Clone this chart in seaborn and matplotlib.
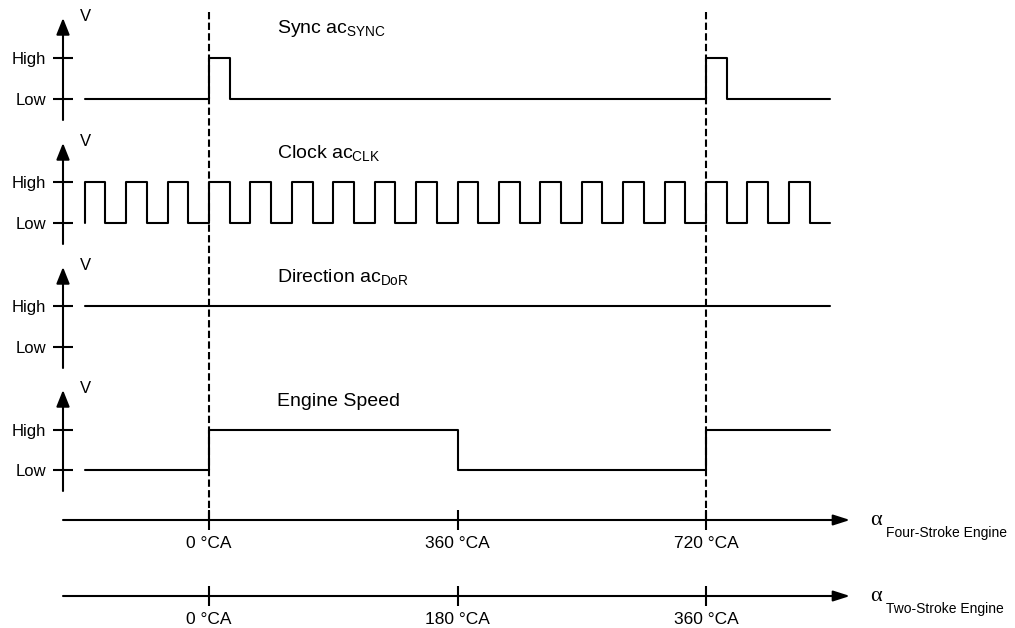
import numpy as np
import pandas as pd
import seaborn as sns
import matplotlib.pyplot as plt

# Signal levels over crank angle (four-stroke degrees). 0 = Low, 1 = High.
sync_deg = [-180, 0, 30, 720, 750, 900]
sync_level = [0, 1, 0, 1, 0, 0]

clock_deg = [-180, -180, -150, -120, -90, -60, -30, 0, 30, 60, 90, 120, 150,
             180, 210, 240, 270, 300, 330, 360, 390, 420, 450, 480, 510, 540,
             570, 600, 630, 660, 690, 720, 750, 780, 810, 840, 870, 900]
clock_level = [0, 1, 0, 1, 0, 1, 0, 1, 0, 1, 0, 1, 0, 1, 0, 1, 0, 1, 0,
               1, 0, 1, 0, 1, 0, 1, 0, 1, 0, 1, 0, 1, 0, 1, 0, 1, 0, 0]

direction_deg = [-180, 900]
direction_level = [1, 1]

speed_deg = [-180, 0, 360, 720, 900]
speed_level = [0, 1, 0, 1, 1]

level_labels = ["Low", "High"]
signal_titles = ["Sync ac$_\\mathrm{SYNC}$", "Clock ac$_\\mathrm{CLK}$",
                 "Direction ac$_\\mathrm{DoR}$", "Engine Speed"]

four_stroke_ticks = [0, 360, 720]
four_stroke_labels = ["0 °CA", "360 °CA", "720 °CA"]
two_stroke_ticks = [0, 180, 360]
two_stroke_labels = ["0 °CA", "180 °CA", "360 °CA"]
tdc_marks = [0, 720]

W, H = 1015, 628
X0, SCALE = 209, 497 / 720          # pixel of 0 °CA, pixels per degree
XLIM = (-X0 / SCALE, (W - X0) / SCALE)
AXIS_X = (63 - X0) / SCALE           # position of vertical axes
ARROW_END = (850 - X0) / SCALE       # tip of horizontal arrows
LW = 1.5

sns.set_style("white")
plt.rcParams["font.family"] = ["Liberation Sans", "DejaVu Sans"]
plt.rcParams["mathtext.fontset"] = "custom"
plt.rcParams["mathtext.rm"] = "Liberation Sans"
plt.rcParams["mathtext.it"] = "Liberation Sans:italic"
plt.rcParams["mathtext.bf"] = "Liberation Sans:bold"
for key in ["text.color", "axes.labelcolor", "xtick.color", "ytick.color",
            "xtick.labelcolor", "ytick.labelcolor"]:
    plt.rcParams[key] = "black"

fig = plt.figure(figsize=(W / 100, H / 100), dpi=100)


def px_axes(top, bottom):
    ax = fig.add_axes([0, 1 - bottom / H, 1, (bottom - top) / H])
    ax.patch.set_visible(False)
    for s in ax.spines.values():
        s.set_visible(False)
    return ax


# background axes in pixel units for dashed markers and labels
bg = px_axes(0, H)
bg.set_xlim(*XLIM)
bg.set_ylim(H, 0)
bg.set_xticks([])
bg.set_yticks([])
for d in tdc_marks:
    bg.plot([d, d], [12, 520], color="black", lw=LW,
            linestyle=(0, (3.5, 1.6)))

# rows: (arrow tip, high, low, bottom) in pixels
rows = [(18, 58, 99, 120), (143, 182, 223, 244),
        (267, 306, 347, 368), (390, 430, 470, 491)]
signals = [(sync_deg, sync_level), (clock_deg, clock_level),
           (direction_deg, direction_level), (speed_deg, speed_level)]
title_base = [33, 158, 282, 406]

for (tip, hi, lo, bot), (deg, lvl), title, tb in zip(rows, signals,
                                                     signal_titles, title_base):
    ax = px_axes(tip, bot)
    u = lo - hi
    ax.set_xlim(*XLIM)
    ax.set_ylim((lo - bot) / u, (lo - tip) / u)
    df = pd.DataFrame({"angle": deg, "level": lvl})
    sns.lineplot(data=df, x="angle", y="level", ax=ax, estimator=None,
                 sort=False, drawstyle="steps-post", color="black", lw=LW)
    ax.set(xlabel=None, ylabel=None)
    ax.set_xticks([])
    ax.spines["left"].set_position(("data", AXIS_X))
    ax.set_yticks([0, 1], level_labels)
    ax.tick_params(axis="y", direction="inout", length=13.7, width=LW,
                   pad=5.5, labelsize=12, left=True, color="black")
    ax.annotate("", xy=(AXIS_X, ax.get_ylim()[1]),
                xytext=(AXIS_X, ax.get_ylim()[0]),
                arrowprops=dict(arrowstyle="-|>,head_length=0.5,head_width=0.2",
                                mutation_scale=20, lw=LW, color="black",
                                shrinkA=0, shrinkB=0),
                annotation_clip=False)
    bg.text(-186.9, tip + 3, "V", fontsize=12, ha="left", va="baseline")
    bg.text((277 - X0) / SCALE, tb, title, fontsize=14, ha="left",
            va="baseline")

# crank angle axes
for yc, scale, ticks, labels, name in [
        (520, 1, four_stroke_ticks, four_stroke_labels, "Four-Stroke Engine"),
        (596, 2, two_stroke_ticks, two_stroke_labels, "Two-Stroke Engine")]:
    ax = px_axes(yc - 20, yc + 20)
    ax.set_xlim(XLIM[0] / scale, XLIM[1] / scale)
    ax.set_ylim(-1, 1)
    ax.set_yticks([])
    ax.spines["bottom"].set_position(("data", 0))
    ax.set_xticks(ticks, labels)
    ax.tick_params(axis="x", direction="inout", length=13.7, width=LW,
                   pad=5, labelsize=12.5, bottom=True, color="black")
    ax.annotate("", xy=(ARROW_END / scale, 0), xytext=(AXIS_X / scale, 0),
                arrowprops=dict(arrowstyle="-|>,head_length=0.5,head_width=0.16",
                                mutation_scale=20, lw=LW, color="black",
                                shrinkA=0, shrinkB=0),
                annotation_clip=False)
    bg.text((870 - X0) / SCALE, yc + 5, "α", fontsize=16,
            family=["Liberation Serif", "DejaVu Serif"], ha="left",
            va="baseline")
    bg.text((886 - X0) / SCALE, yc + 17, name, fontsize=10, ha="left",
            va="baseline")

fig.savefig("out.png", dpi=100)
